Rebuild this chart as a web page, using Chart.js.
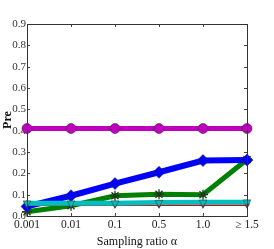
<!DOCTYPE html>
<html>
<head>
<meta charset="utf-8">
<script src="https://cdn.jsdelivr.net/npm/chart.js@4/dist/chart.umd.min.js"></script>
<style>
  html, body { margin: 0; padding: 0; background: #fff; }
  #wrap { width: 274px; height: 249px; }
</style>
</head>
<body>
<div id="wrap"><canvas id="c" width="274" height="249"></canvas></div>
<script>
// Категории по оси X (коэффициент выборки)
const ratios = ['0.001', '0.01', '0.1', '0.5', '1.0', '\u2265 1.5'];
// Значения серий
const magentaPre = [0.41, 0.41, 0.41, 0.41, 0.41, 0.41];
const bluePre = [0.045, 0.095, 0.152, 0.205, 0.26, 0.262];
const greenPre = [0.02, 0.048, 0.095, 0.102, 0.10, 0.265];
const redPre = [0.05, 0.05, 0.05, 0.05, 0.05, 0.05];
const cyanPre = [0.06, 0.06, 0.06, 0.063, 0.064, 0.065];
// Деления оси Y
const yTicks = [0, 0.1, 0.2, 0.3, 0.4, 0.5, 0.6, 0.7, 0.8, 0.9];

const serif = '"Liberation Serif", "DejaVu Serif", serif';

// Рамка и внутренние засечки со всех сторон
const frame = {
  id: 'frame',
  afterDatasetsDraw(chart) {
    const { ctx, chartArea: a, scales } = chart;
    ctx.save();
    ctx.strokeStyle = '#444';
    ctx.lineWidth = 1;
    ctx.beginPath();
    ratios.forEach((r, i) => {
      const x = Math.round(scales.x.getPixelForValue(i)) + 0.5;
      ctx.moveTo(x, a.bottom); ctx.lineTo(x, a.bottom - 3);
      ctx.moveTo(x, a.top); ctx.lineTo(x, a.top + 3);
    });
    yTicks.forEach(v => {
      const y = Math.round(scales.y.getPixelForValue(v)) + 0.5;
      ctx.moveTo(a.left, y); ctx.lineTo(a.left + 3, y);
      ctx.moveTo(a.right, y); ctx.lineTo(a.right - 3, y);
    });
    ctx.stroke();
    ctx.strokeStyle = '#333';
    ctx.strokeRect(Math.round(a.left) + 0.5, Math.round(a.top) + 0.5,
      Math.round(a.right - a.left), Math.round(a.bottom - a.top));
    ctx.restore();
  }
};

function series(data, color, style, radius, width, order, rotation, edge) {
  return {
    data: data,
    borderColor: color,
    backgroundColor: color,
    pointBackgroundColor: color,
    pointBorderColor: edge || '#333',
    pointBorderWidth: edge ? 1.3 : 0.6,
    borderWidth: width,
    pointStyle: style,
    pointRadius: radius,
    pointRotation: rotation || 0,
    order: order,
    clip: false
  };
}

new Chart(document.getElementById('c').getContext('2d'), {
  type: 'line',
  data: {
    labels: ratios,
    datasets: [
      series(cyanPre, '#00bfbf', 'triangle', 4.5, 5, 1, 180),
      series(redPre, '#e00000', 'triangle', 3, 1.5, 2, 180),
      series(magentaPre, '#bf00bf', 'circle', 5, 5, 3),
      series(bluePre, '#0000ff', 'rectRot', 6, 6, 4),
      series(greenPre, '#008000', 'star', 5, 5, 5, 0, '#1a3a1a')
    ]
  },
  options: {
    responsive: false,
    animation: false,
    layout: { padding: { top: 24, right: 27, left: 1, bottom: 0 } },
    plugins: { legend: { display: false }, tooltip: { enabled: false } },
    scales: {
      x: {
        offset: false,
        grid: { display: false, drawTicks: false, tickLength: 0 },
        border: { display: false },
        ticks: { color: '#222', font: { family: serif, size: 11.5 }, padding: 2, maxRotation: 0 },
        title: { display: true, text: 'Sampling ratio \u03b1', color: '#111', font: { family: serif, size: 12 }, padding: { top: 0, bottom: 0 } },
        afterFit(s) { s.height = 33; }
      },
      y: {
        min: 0,
        max: 0.9,
        afterBuildTicks(s) { s.ticks = yTicks.map(v => ({ value: v })); },
        grid: { display: false, drawTicks: false, tickLength: 0 },
        border: { display: false },
        ticks: { color: '#333', font: { family: serif, size: 11 }, padding: 1, callback: v => v.toFixed(1) },
        title: { display: true, text: 'Pre', color: '#111', font: { family: serif, size: 12, weight: 'bold' }, padding: 0 },
        afterFit(s) { s.width = 26; }
      }
    }
  },
  plugins: [frame]
});
</script>
</body>
</html>
